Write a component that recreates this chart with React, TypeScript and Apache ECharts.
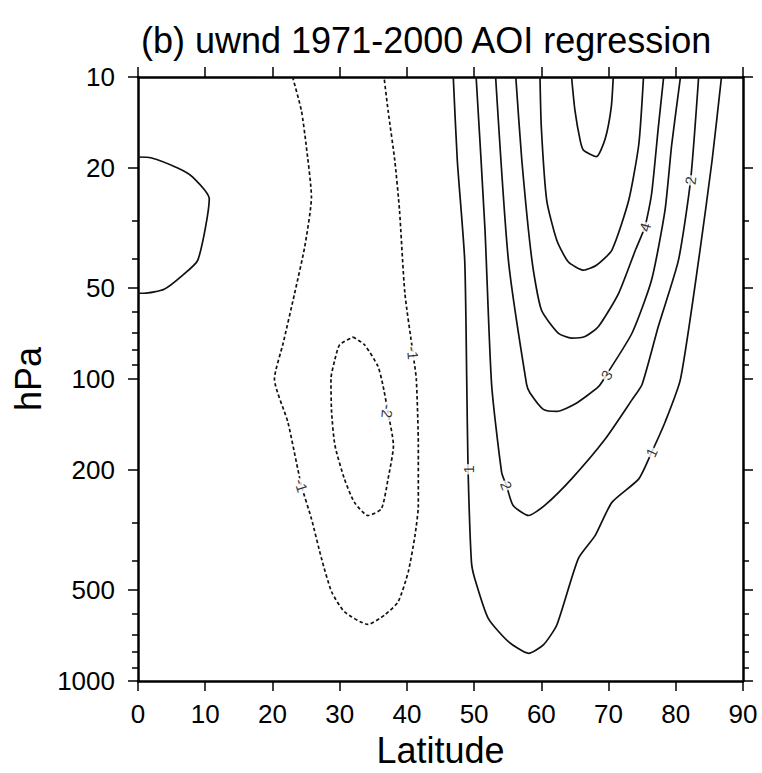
import React, { useEffect, useRef } from "react";
import * as echarts from "echarts";

// ---- data (latitude in degrees, pressure in hPa) ----
const eqPos1Lat = [0, 1.9, 5.9, 8.1, 10.6, 8.9, 6.4, 3.9, 0.9, 0];
const eqPos1P = [18.4, 18.5, 20.0, 21.4, 25.3, 40.4, 45.8, 50.4, 52.0, 52.0];

const neg1Lat = [23.0, 24.3, 25.0, 25.8, 24.8, 23.3, 21.6, 20.3, 22.3, 24.3, 25.8, 27.3, 28.8, 30.7, 34.2, 36.7, 38.7, 40.2, 41.2, 41.7, 41.7, 41.4, 40.9, 39.7, 38.9, 38.2, 37.2, 36.6];
const neg1P = [10, 12.9, 16.7, 25.0, 36.5, 52, 76, 100, 139, 225, 290, 393, 506, 589, 649, 604, 546, 435, 330, 262, 166, 100, 82, 52, 27.6, 18.9, 12.9, 10];

const neg2Lat = [32.0, 33.7, 35.7, 36.4, 37.2, 38.0, 37.2, 36.2, 34.2, 32.2, 30.7, 29.3, 28.8, 28.7, 29.3, 30.0, 32.0];
const neg2P = [72.6, 77, 90.8, 104, 129, 166, 214, 269, 283, 256, 214, 166, 129, 100, 86, 77, 72.6];

const pos1Lat = [46.9, 47.5, 48.6, 48.9, 49.1, 49.6, 50.1, 52.1, 55.1, 58.1, 60.3, 62.3, 65.5, 68.0, 70.5, 74.5, 76.4, 78.4, 80.7, 83.4, 85.4, 86.8];
const pos1P = [10, 18.9, 40.4, 100, 199, 403, 458, 620, 740, 809, 759, 652, 393, 330, 256, 214, 175, 139, 100, 40.4, 18.9, 10];

const pos2Lat = [50.3, 51.6, 52.6, 54.1, 54.8, 55.8, 58.1, 60.5, 64.5, 69.5, 73.5, 75.0, 77.4, 80.4, 82.2, 83.4];
const pos2P = [10, 31.4, 104, 204, 225, 262, 283, 262, 214, 158, 117, 104, 67, 40.4, 22, 10];

const pos3Lat = [53.2, 55.1, 57.8, 58.3, 60.3, 62.3, 65.0, 68.5, 69.7, 73.5, 76.4, 78.4, 79.4, 80.7];
const pos3P = [10, 40.4, 104, 111, 126, 128, 121, 106, 96.7, 70.4, 47, 27.6, 16.7, 10];

const pos4Lat = [56.2, 57.1, 58.6, 60.0, 62.5, 64.5, 66.5, 68.5, 71.5, 74.0, 75.4, 76.4, 77.4, 78.2];
const pos4P = [10, 18.9, 40.4, 59, 70.4, 73.2, 72.3, 67, 52, 37.4, 31.4, 24.4, 14.7, 10];

const pos5Lat = [59.8, 60.0, 60.8, 62.3, 64.0, 66.3, 68.2, 70.5, 73.0, 74.5, 75.2];
const pos5P = [10, 14.7, 25.6, 34.7, 40.9, 43.6, 42, 37.4, 25.6, 16.7, 10];

const pos6Lat = [64.5, 65.0, 65.8, 66.3, 68.2, 69.5, 70.4, 70.7];
const pos6P = [10, 12.9, 16.3, 17.5, 18.35, 16.0, 12.6, 10];

// contour labels
const labelText = ["-1", "-2", "-1", "1", "2", "3", "4", "2", "1"];
const labelLat = [40.9, 37.1, 24.3, 49.1, 54.8, 69.7, 75.4, 82.2, 76.4];
const labelP = [82, 128, 225, 199, 225, 97, 31.4, 22, 175];
const labelRotate = [-85, -95, -73, 90, -70, 58, 73, 84, 65];

// axis ticks
const latTicks = [0, 10, 20, 30, 40, 50, 60, 70, 80, 90];
const pMajor = [10, 20, 50, 100, 200, 500, 1000];
const pMinor = [30, 40, 60, 70, 80, 90, 300, 400, 600, 700, 800, 900];

const contours = [
  { lat: eqPos1Lat, p: eqPos1P, dashed: false },
  { lat: neg1Lat, p: neg1P, dashed: true },
  { lat: neg2Lat, p: neg2P, dashed: true },
  { lat: pos1Lat, p: pos1P, dashed: false },
  { lat: pos2Lat, p: pos2P, dashed: false },
  { lat: pos3Lat, p: pos3P, dashed: false },
  { lat: pos4Lat, p: pos4P, dashed: false },
  { lat: pos5Lat, p: pos5P, dashed: false },
  { lat: pos6Lat, p: pos6P, dashed: false },
];

const FONT = "Liberation Sans";
const lg = (v: number) => Math.log10(v);

export default function App() {
  const ref = useRef<HTMLDivElement>(null);
  useEffect(() => {
    if (!ref.current) return;
    const chart = echarts.init(ref.current, null, { renderer: "svg" });

    const lineSeries = contours.map((c) => ({
      type: "line",
      xAxisIndex: 0,
      yAxisIndex: 0,
      showSymbol: false,
      symbol: "none",
      smooth: 0.2,
      silent: true,
      z: 2,
      lineStyle: {
        color: "#111",
        width: 1.7,
        type: c.dashed ? [3.5, 2.5] : "solid",
      },
      data: c.lat.map((x, i) => [x, lg(c.p[i])]),
    }));

    const labelSeries = labelText.map((t, i) => ({
      type: "scatter",
      xAxisIndex: 0,
      yAxisIndex: 0,
      symbolSize: 0,
      silent: true,
      z: 5,
      data: [[labelLat[i], lg(labelP[i])]],
      label: {
        show: true,
        position: "inside",
        formatter: t,
        rotate: labelRotate[i],
        fontSize: 15,
        fontFamily: FONT,
        color: "#000",
        backgroundColor: "#fff",
        padding: [0, 1],
      },
    }));

    const yBase = {
      type: "value",
      min: 1,
      max: 3,
      inverse: true,
      splitLine: { show: false },
    };

    chart.setOption({
      animation: false,
      backgroundColor: "#fff",
      title: {
        text: "(b) uwnd 1971-2000 AOI regression",
        left: 136,
        top: 17,
        textStyle: { fontSize: 36, fontWeight: "normal", fontFamily: FONT, color: "#000" },
      },
      grid: { left: 138, right: 19, top: 77, bottom: 89 },
      xAxis: [
        {
          type: "value",
          min: 0,
          max: 90,
          interval: 10,
          position: "bottom",
          name: "Latitude",
          nameLocation: "middle",
          nameGap: 47,
          nameTextStyle: { fontSize: 36, fontFamily: FONT, color: "#000" },
          axisLine: { show: true, lineStyle: { color: "#000", width: 2.5 } },
          axisTick: { show: true, inside: false, length: 10, lineStyle: { color: "#000", width: 1.5 }, customValues: latTicks },
          axisLabel: { show: true, margin: 20, fontSize: 26, fontFamily: FONT, color: "#000", customValues: latTicks },
          splitLine: { show: false },
        },
        {
          type: "value",
          min: 0,
          max: 90,
          interval: 10,
          position: "top",
          axisLine: { show: true, lineStyle: { color: "#000", width: 2.5 } },
          axisTick: { show: true, inside: false, length: 10, lineStyle: { color: "#000", width: 1.5 }, customValues: latTicks },
          axisLabel: { show: false },
          splitLine: { show: false },
        },
      ],
      yAxis: [
        {
          ...yBase,
          position: "left",
          name: "hPa",
          nameLocation: "middle",
          nameGap: 88,
          nameRotate: 90,
          nameTextStyle: { fontSize: 36, fontFamily: FONT, color: "#000" },
          axisLine: { show: true, lineStyle: { color: "#000", width: 2.5 } },
          axisTick: { show: true, inside: false, length: 10, lineStyle: { color: "#000", width: 1.5 }, customValues: pMajor.map(lg) },
          axisLabel: {
            show: true,
            margin: 23,
            fontSize: 26,
            fontFamily: FONT,
            color: "#000",
            customValues: pMajor.map(lg),
            formatter: (v: number) => String(Math.round(Math.pow(10, v))),
          },
        },
        {
          ...yBase,
          position: "left",
          axisLine: { show: false },
          axisTick: { show: true, inside: false, length: 6, lineStyle: { color: "#000", width: 1.5 }, customValues: pMinor.map(lg) },
          axisLabel: { show: false },
        },
        {
          ...yBase,
          position: "right",
          axisLine: { show: true, lineStyle: { color: "#000", width: 2.5 } },
          axisTick: { show: true, inside: false, length: 10, lineStyle: { color: "#000", width: 1.5 }, customValues: pMajor.map(lg) },
          axisLabel: { show: false },
        },
        {
          ...yBase,
          position: "right",
          axisLine: { show: false },
          axisTick: { show: true, inside: false, length: 6, lineStyle: { color: "#000", width: 1.5 }, customValues: pMinor.map(lg) },
          axisLabel: { show: false },
        },
      ],
      series: [...lineSeries, ...labelSeries],
    });

    return () => chart.dispose();
  }, []);

  return (
    <div
      ref={ref}
      style={{ position: "absolute", left: 0, top: 0, width: 762, height: 773 }}
    />
  );
}
